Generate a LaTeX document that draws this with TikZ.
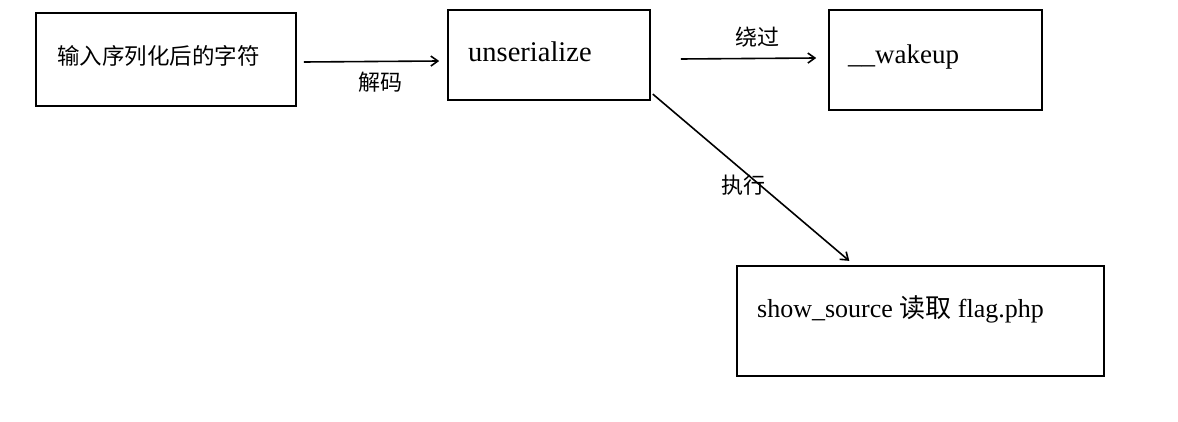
\documentclass[tikz,border=0pt]{standalone}
\usepackage{fontspec}
\setmainfont{Liberation Serif}
\newfontfamily\cjk{Noto Sans CJK SC}
\usetikzlibrary{arrows.meta}

\begin{document}
\begin{tikzpicture}[x=1pt, y=1pt, auto,
  box/.style={draw, line width=1.6pt, inner sep=0pt},
  txt/.style={anchor=base west, inner sep=0pt},
  arr/.style={line width=1.6pt, -{Straight Barb[length=7pt,width=10pt]}},
  lbl/.style={inner sep=0pt, font=\cjk\fontsize{22}{26}\selectfont}]
 \useasboundingbox (0,0) rectangle (1178,421);

 \node[box, minimum width=260pt, minimum height=93pt] (IN) at (166,361.5) {};
 \node[box, minimum width=202pt, minimum height=90pt] (UN) at (549,366) {};
 \node[box, minimum width=213pt, minimum height=100pt] (WK) at (935.5,361) {};
 \node[box, minimum width=367pt, minimum height=110pt] (SS) at (920.5,100) {};

 \node[txt, font=\cjk\fontsize{22.5}{27}\selectfont] (INt) at (57,356) {输入序列化后的字符};
 \node[txt, font=\fontsize{28.5}{34}\selectfont] (UNt) at (468,359.3) {unserialize};
 \node[txt, font=\fontsize{27}{32}\selectfont] (WKt) at (848,357.7) {\_\_wakeup};
 \node[txt, font=\fontsize{26}{31}\selectfont] (SSt) at (757,103.3) {show\_source {\cjk 读取} flag.php};

 \draw[arr] ([xshift=7pt,yshift=-2.5pt]IN.east) to node[lbl, pos=.566, below=10pt] {解码} ([xshift=-8pt,yshift=-6pt]UN.west);
 \draw[arr] ([xshift=30pt,yshift=-4pt]UN.east) to node[lbl, pos=.566, above=10pt] {绕过} ([xshift=-12pt,yshift=2pt]WK.west);
 \draw[arr] ([xshift=2pt,yshift=6.7pt]UN.south east) to node[lbl, pos=.464, anchor=center, yshift=-13.5pt] {执行} ([xshift=-71.2pt,yshift=4.3pt]SS.north);
\end{tikzpicture}
\end{document}
